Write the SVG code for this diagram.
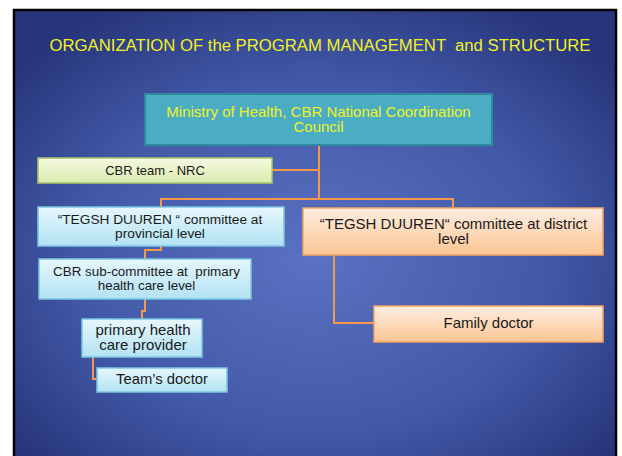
<svg xmlns="http://www.w3.org/2000/svg" width="622" height="456" viewBox="0 0 622 456">
<defs>
<radialGradient id="bg" cx="0.5" cy="0.55" r="0.65">
<stop offset="0" stop-color="#5b72c2"/>
<stop offset="0.6" stop-color="#4259a8"/>
<stop offset="1" stop-color="#27357a"/>
</radialGradient>
<linearGradient id="gBlue" x1="0" y1="0" x2="0" y2="1">
<stop offset="0" stop-color="#e6f7fc"/>
<stop offset="1" stop-color="#b2e2f3"/>
</linearGradient>
<linearGradient id="gPeach" x1="0" y1="0" x2="0" y2="1">
<stop offset="0" stop-color="#fdeee2"/>
<stop offset="1" stop-color="#fbc592"/>
</linearGradient>
<linearGradient id="gGreen" x1="0" y1="0" x2="0" y2="1">
<stop offset="0" stop-color="#f5fae2"/>
<stop offset="1" stop-color="#dbeaae"/>
</linearGradient>
</defs>
<style>
text{font-family:"Liberation Sans",Arial,sans-serif;text-anchor:middle;white-space:pre;}
.dark{fill:#1a1a1a;}
.yel{fill:#f2f21e;}
.blue{fill:url(#gBlue);stroke:#7cc6e2;stroke-width:1.5;}
.peach{fill:url(#gPeach);stroke:#f4a460;stroke-width:1.5;}
.green{fill:url(#gGreen);stroke:#a8c868;stroke-width:1.5;}
.teal{fill:#4aadc4;stroke:#2e8a9c;stroke-width:2;}
.conn{fill:none;stroke:#f5984a;stroke-width:2;}
</style>
<rect x="0" y="0" width="622" height="456" fill="#ffffff"/>
<rect x="14" y="10" width="602" height="452" fill="url(#bg)" stroke="#000" stroke-width="2.5"/>
<text x="320" y="51" font-size="16.7" class="yel" xml:space="preserve">ORGANIZATION OF the PROGRAM MANAGEMENT  and STRUCTURE</text>
<g id="connectors">
<path class="conn" d="M319,145 V199"/>
<path class="conn" d="M272,170 H319"/>
<path class="conn" d="M161,207 V199 H453 V208"/>
<path class="conn" d="M161,246 V250 H145 V259"/>
<path class="conn" d="M145,299 V311 H142 V319"/>
<path class="conn" d="M93,357 V379 H97"/>
<path class="conn" d="M334,255 V323 H374"/>
</g>
<g id="ministry">
<rect class="teal" x="145" y="94" width="347" height="51"/>
<text x="318.5" y="117" font-size="15" class="yel">Ministry of Health, CBR National Coordination</text>
<text x="318.5" y="132" font-size="15" class="yel">Council</text>
</g>
<g id="cbr-team">
<rect class="green" x="38" y="158" width="234" height="25"/>
<text x="155" y="175" font-size="13" class="dark">CBR team - NRC</text>
</g>
<g id="provincial">
<rect class="blue" x="38" y="207" width="246" height="39"/>
<text x="160" y="224" font-size="13.7" class="dark" xml:space="preserve">“TEGSH DUUREN “ committee at</text>
<text x="160" y="238" font-size="13.7" class="dark">provincial level</text>
</g>
<g id="district">
<rect class="peach" x="303" y="208" width="300" height="47"/>
<text x="453.5" y="228.5" font-size="15" class="dark">“TEGSH DUUREN“ committee at district</text>
<text x="453.5" y="244" font-size="15" class="dark">level</text>
</g>
<g id="family-doctor">
<rect class="peach" x="374" y="306" width="229" height="36"/>
<text x="488.5" y="328" font-size="15" class="dark">Family doctor</text>
</g>
<g id="sub-committee">
<rect class="blue" x="39" y="259" width="212" height="40"/>
<text x="146.5" y="276" font-size="13.4" class="dark" xml:space="preserve">CBR sub-committee at  primary</text>
<text x="146.5" y="289.5" font-size="13.4" class="dark">health care level</text>
</g>
<g id="phc-provider">
<rect class="blue" x="82" y="319" width="120" height="38"/>
<text x="143" y="334.5" font-size="15" class="dark">primary health</text>
<text x="143" y="349.5" font-size="15" class="dark">care provider</text>
</g>
<g id="team-doctor">
<rect class="blue" x="97" y="368" width="130" height="24"/>
<text x="162" y="383.5" font-size="14.8" class="dark">Team’s doctor</text>
</g>
</svg>
